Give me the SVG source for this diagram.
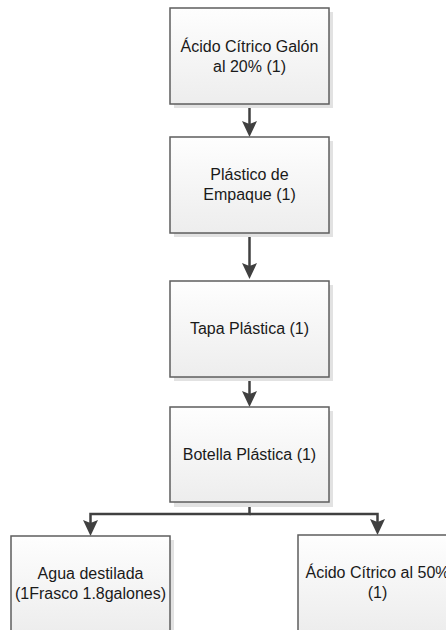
<svg xmlns="http://www.w3.org/2000/svg" width="446" height="630" viewBox="0 0 446 630">
<defs>
<linearGradient id="g" x1="0" y1="0" x2="0" y2="1">
<stop offset="0" stop-color="#fefefe"/>
<stop offset="1" stop-color="#ededed"/>
</linearGradient>
<marker id="arr" markerUnits="userSpaceOnUse" markerWidth="20" markerHeight="20" viewBox="0 -10 20 20" refX="6" refY="0" orient="auto">
<path d="M0,-7.5 L16,0 L0,7.5 L3,0 Z" fill="#404040"/>
</marker>
</defs>
<style>
.sh{fill:#e2e2e2}
.bx{fill:url(#g);stroke:#5e5e5e;stroke-width:1.5}
.t{font-family:"Liberation Sans",Arial,sans-serif;font-size:16px;fill:#1a1a1a;text-anchor:middle}
.c{fill:none;stroke:#404040;stroke-width:2.5;marker-end:url(#arr)}
</style>
<rect width="446" height="630" fill="#ffffff"/>
<g id="connectors">
<path class="c" d="M249.5,104 V127"/>
<path class="c" d="M249.5,233 V269"/>
<path class="c" d="M249.5,377 V397"/>
<path class="c" d="M249.5,502 V514 H90.5 V526"/>
<path class="c" d="M249.5,514 H377.5 V525"/>
</g>
<g id="n1">
<rect class="sh" x="174" y="12" width="159" height="96"/>
<rect class="bx" x="170" y="8" width="159" height="96"/>
<text class="t" x="249.5" y="52">Ácido Cítrico Galón</text>
<text class="t" x="249.5" y="71.5">al 20% (1)</text>
</g>
<g id="n2">
<rect class="sh" x="174" y="141" width="159" height="96"/>
<rect class="bx" x="170" y="137" width="159" height="96"/>
<text class="t" x="249.5" y="180">Plástico de</text>
<text class="t" x="249.5" y="199.5">Empaque (1)</text>
</g>
<g id="n3">
<rect class="sh" x="174" y="285" width="159" height="96"/>
<rect class="bx" x="170" y="281" width="159" height="96"/>
<text class="t" x="249.5" y="334">Tapa Plástica (1)</text>
</g>
<g id="n4">
<rect class="sh" x="174" y="411" width="159" height="96"/>
<rect class="bx" x="170" y="407" width="159" height="95"/>
<text class="t" x="249.5" y="460">Botella Plástica (1)</text>
</g>
<g id="n5">
<rect class="sh" x="15" y="540" width="159" height="96"/>
<rect class="bx" x="11" y="536" width="159" height="96"/>
<text class="t" x="90.5" y="579">Agua destilada</text>
<text class="t" x="90.5" y="598.5">(1Frasco 1.8galones)</text>
</g>
<g id="n6">
<rect class="sh" x="302" y="539" width="159" height="96"/>
<rect class="bx" x="298" y="535" width="159" height="96"/>
<text class="t" x="377.5" y="578">Ácido Cítrico al 50%</text>
<text class="t" x="377.5" y="597.5">(1)</text>
</g>
</svg>
